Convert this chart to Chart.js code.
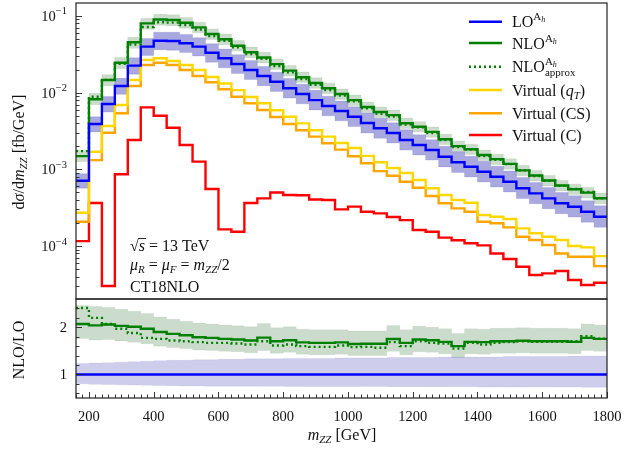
<!DOCTYPE html>
<html>
<head>
<meta charset="utf-8">
<title>ZZ invariant mass</title>
<script src="https://cdn.jsdelivr.net/npm/chart.js@4.4.1/dist/chart.umd.min.js"></script>
<style>
  html, body { margin: 0; padding: 0; background: #fff; }
  #wrap { position: relative; width: 641px; height: 451px; overflow: hidden; }
  #wrap canvas { position: absolute; left: 0; }
  #main { top: 0; }
  #ratio { top: 290px; }
</style>
</head>
<body>
<div id="wrap">
  <canvas id="main" width="641" height="300"></canvas>
  <canvas id="ratio" width="641" height="161"></canvas>
</div>
<script>
// ─── Data (bin lower edges in GeV, 40 GeV bins) ───────────────────────────────

const binLow = [160, 200, 240, 280, 320, 360, 400, 440, 480, 520, 560, 600, 640, 680,
    720, 760, 800, 840, 880, 920, 960, 1000, 1040, 1080, 1120, 1160, 1200, 1240, 1280,
    1320, 1360, 1400, 1440, 1480, 1520, 1560, 1600, 1640, 1680, 1720, 1760];
const binEnd = 1800;

// dσ/dm_ZZ [fb/GeV]
const lo = [7.11e-4, 3.90e-3, 7.11e-3, 1.22e-2, 2.25e-2, 3.98e-2, 4.76e-2, 4.72e-2, 4.41e-2,
    3.98e-2, 3.32e-2, 2.81e-2, 2.37e-2, 1.98e-2, 1.65e-2, 1.39e-2, 1.14e-2, 9.6e-3, 8.0e-3,
    6.7e-3, 5.77e-3, 4.86e-3, 4.02e-3, 3.43e-3, 2.98e-3, 2.41e-3, 2.08e-3, 1.79e-3, 1.46e-3,
    1.24e-3, 1.08e-3, 9.3e-4, 8.0e-4, 6.9e-4, 5.66e-4, 4.87e-4, 4.19e-4, 3.61e-4, 3.26e-4,
    2.80e-4, 2.41e-4];
const nlo = [1.49e-3, 8.2e-3, 1.46e-2, 2.46e-2, 4.54e-2, 8.0e-2, 9.0e-2, 8.87e-2, 8.18e-2,
    7.1e-2, 5.82e-2, 4.97e-2, 4.10e-2, 3.36e-2, 2.88e-2, 2.36e-2, 1.94e-2, 1.59e-2, 1.34e-2,
    1.14e-2, 9.6e-3, 8.0e-3, 6.5e-3, 5.6e-3, 5.1e-3, 4.0e-3, 3.6e-3, 3.08e-3, 2.47e-3,
    2.01e-3, 1.83e-3, 1.54e-3, 1.36e-3, 1.18e-3, 9.7e-4, 8.3e-4, 7.15e-4, 6.15e-4, 5.5e-4,
    4.97e-4, 4.2e-4];
const nloApprox = [1.73e-3, 8.85e-3, 1.47e-2, 2.38e-2, 4.25e-2, 7.2e-2, 8.3e-2, 8.2e-2, 7.62e-2,
    6.68e-2, 5.48e-2, 4.73e-2, 3.90e-2, 3.19e-2, 2.76e-2, 2.23e-2, 1.84e-2, 1.51e-2, 1.27e-2,
    1.08e-2, 9.2e-3, 7.7e-3, 6.25e-3, 5.3e-3, 4.9e-3, 3.83e-3, 3.53e-3, 2.98e-3, 2.42e-3,
    1.95e-3, 1.81e-3, 1.49e-3, 1.33e-3, 1.17e-3, 9.7e-4, 8.2e-4, 7.1e-4, 6.1e-4, 5.55e-4,
    5.07e-4, 4.2e-4];
const virtQT = [2.72e-4, 1.70e-3, 3.67e-3, 6.9e-3, 1.46e-2, 2.67e-2, 2.81e-2, 2.59e-2, 2.30e-2,
    1.98e-2, 1.60e-2, 1.32e-2, 1.08e-2, 8.8e-3, 7.27e-3, 5.89e-3, 4.86e-3, 3.98e-3, 3.23e-3,
    2.67e-3, 2.21e-3, 1.90e-3, 1.50e-3, 1.24e-3, 1.04e-3, 8.95e-4, 7.26e-4, 5.66e-4, 4.63e-4,
    3.98e-4, 3.67e-4, 2.54e-4, 2.41e-4, 2.25e-4, 1.70e-4, 1.47e-4, 1.32e-4, 1.20e-4, 1.0e-4,
    9.6e-5, 7.4e-5];
const virtCS = [2.07e-4, 1.32e-3, 3.0e-3, 5.38e-3, 1.22e-2, 2.30e-2, 2.46e-2, 2.30e-2, 1.98e-2,
    1.65e-2, 1.37e-2, 1.11e-2, 8.86e-3, 7.27e-3, 5.94e-3, 4.82e-3, 3.90e-3, 3.23e-3, 2.67e-3,
    2.19e-3, 1.81e-3, 1.48e-3, 1.20e-3, 9.5e-4, 8.26e-4, 6.9e-4, 5.77e-4, 4.49e-4, 3.61e-4,
    3.10e-4, 2.80e-4, 2.07e-4, 1.98e-4, 1.75e-4, 1.32e-4, 1.20e-4, 1.03e-4, 8.0e-5, 7.26e-5,
    7.26e-5, 5.48e-5];
const virtC = [1.16e-4, 3.64e-4, 3.01e-5, 8.65e-4, 2.41e-3, 6.44e-3, 5.01e-3, 3.49e-3, 2.08e-3,
    1.26e-3, 5.54e-4, 1.65e-4, 1.54e-4, 3.64e-4, 4.19e-4, 4.99e-4, 4.63e-4, 4.59e-4, 4.04e-4,
    3.98e-4, 3.01e-4, 3.27e-4, 2.80e-4, 2.67e-4, 2.39e-4, 2.18e-4, 1.62e-4, 1.54e-4, 1.29e-4,
    1.19e-4, 1.09e-4, 1.02e-4, 8.0e-5, 6.77e-5, 5.37e-5, 4.19e-5, 4.40e-5, 4.72e-5, 3.61e-5,
    3.10e-5, 3.32e-5];

// scale bands, as ratio to LO
const loBandLow = [0.80, 0.79, 0.785, 0.78, 0.775, 0.77, 0.765, 0.76, 0.755, 0.755, 0.75, 0.75,
    0.75, 0.75, 0.748, 0.748, 0.746, 0.746, 0.745, 0.745, 0.744, 0.744, 0.742, 0.742, 0.74,
    0.74, 0.74, 0.738, 0.738, 0.736, 0.736, 0.735, 0.735, 0.734, 0.734, 0.733, 0.733, 0.732,
    0.732, 0.73, 0.73];
const loBandHigh = [1.23, 1.24, 1.25, 1.26, 1.27, 1.28, 1.29, 1.30, 1.30, 1.31, 1.31, 1.32, 1.32,
    1.33, 1.33, 1.33, 1.34, 1.34, 1.34, 1.34, 1.35, 1.35, 1.35, 1.35, 1.36, 1.36, 1.36, 1.36,
    1.37, 1.37, 1.37, 1.37, 1.37, 1.38, 1.38, 1.38, 1.38, 1.38, 1.39, 1.39, 1.39];

// NLO/LO panel
const nloRatio = [2.07, 2.04, 2.06, 2.03, 2.01, 1.97, 1.90, 1.86, 1.83, 1.79, 1.775, 1.755, 1.74,
    1.72, 1.78, 1.705, 1.725, 1.68, 1.67, 1.67, 1.68, 1.645, 1.65, 1.65, 1.75, 1.67, 1.74,
    1.725, 1.69, 1.60, 1.69, 1.685, 1.705, 1.705, 1.715, 1.705, 1.705, 1.705, 1.69, 1.775, 1.755];
const approxRatio = [2.41, 2.20, 2.07, 1.97, 1.88, 1.775, 1.755, 1.72, 1.705, 1.685, 1.67, 1.67,
    1.655, 1.635, 1.705, 1.615, 1.635, 1.60, 1.585, 1.585, 1.615, 1.58, 1.585, 1.565, 1.685,
    1.60, 1.705, 1.67, 1.655, 1.55, 1.67, 1.635, 1.67, 1.685, 1.705, 1.69, 1.69, 1.69, 1.705,
    1.81, 1.76];
const nloBandHigh = [2.46, 2.44, 2.42, 2.38, 2.34, 2.29, 2.22, 2.17, 2.13, 2.09, 2.07, 2.05, 2.03,
    2.01, 2.08, 1.99, 2.01, 1.96, 1.95, 1.95, 1.95, 1.92, 1.92, 1.92, 2.04, 1.95, 2.02, 2.0,
    1.97, 1.87, 1.97, 1.96, 1.98, 1.98, 1.99, 1.98, 1.98, 1.98, 1.97, 2.07, 2.05];
const nloBandLow = [1.76, 1.73, 1.74, 1.71, 1.68, 1.65, 1.60, 1.57, 1.55, 1.52, 1.51, 1.49, 1.48,
    1.46, 1.51, 1.45, 1.47, 1.43, 1.42, 1.42, 1.43, 1.40, 1.40, 1.40, 1.49, 1.42, 1.48, 1.47,
    1.44, 1.36, 1.44, 1.43, 1.45, 1.45, 1.46, 1.45, 1.45, 1.45, 1.44, 1.51, 1.49];
const loRatioLevel = 1;

// axes
const xTicks = [200, 400, 600, 800, 1000, 1200, 1400, 1600, 1800];
const decades = [-4, -3, -2, -1];
const ratioTicks = [1, 2];

// ─── Style ────────────────────────────────────────────────────────────────────

const SERIF = '"Liberation Serif", "DejaVu Serif", serif';
const INK = '#111';
const colors = {
    lo: '#0000ff',
    nlo: '#008000',
    qt: '#ffd700',
    cs: '#ffa500',
    c: '#ff0000',
};

function font(size, italic) {
    return `${italic ? 'italic ' : ''}${size}px ${SERIF}`;
}

function seg(ctx, x1, y1, x2, y2) {
    ctx.beginPath();
    ctx.moveTo(x1, y1);
    ctx.lineTo(x2, y2);
    ctx.stroke();
}

// text made of runs with own size / italic / baseline shift
function drawRuns(ctx, x, y, runs, align) {
    let pen = 0, mark = 0;
    const placed = runs.map(r => {
        ctx.font = font(r.s, r.i);
        const w = ctx.measureText(r.t).width;
        const sx = r.stack ? mark : pen;
        if (r.mark) mark = sx;
        pen = Math.max(pen, sx + w);
        return { r, sx };
    });
    const off = align === 'center' ? -pen / 2 : align === 'right' ? -pen : 0;
    ctx.fillStyle = INK;
    ctx.textAlign = 'left';
    ctx.textBaseline = 'alphabetic';
    placed.forEach(({ r, sx }) => {
        ctx.font = font(r.s, r.i);
        ctx.fillText(r.t, x + off + sx, y + (r.dy || 0));
    });
    return pen;
}

// histogram points: one per bin edge, last value repeated at the upper edge
// (Chart.js 'before' keeps a point's value up to the next point)
function stairs(vals) {
    const pts = binLow.map((x, i) => ({ x, y: vals[i] }));
    pts.push({ x: binEnd, y: vals[vals.length - 1] });
    return pts;
}

function histLine(vals, color, extra) {
    return Object.assign({
        data: stairs(vals),
        borderColor: color,
        borderWidth: 2.4,
        stepped: 'before',
        pointRadius: 0,
        fill: false,
        order: 1,
    }, extra);
}

function band(high, low, fillColor, edgeColor) {
    return [
        { data: stairs(high), stepped: 'before', borderColor: edgeColor, borderWidth: 1,
          backgroundColor: fillColor, fill: '+1', pointRadius: 0, order: 10 },
        { data: stairs(low), stepped: 'before', borderColor: edgeColor, borderWidth: 1,
          fill: false, pointRadius: 0, order: 10 },
    ];
}

const common = {
    responsive: false,
    animation: false,
    events: [],
    plugins: { legend: { display: false }, tooltip: { enabled: false } },
};

// ─── Main panel decorations ───────────────────────────────────────────────────

const legendRows = [
    { y: 21.7, color: colors.lo, runs: [{ t: 'LO', s: 16 }, { t: 'A', s: 11, dy: -7 }, { t: 'h', s: 8, i: true, dy: -5 }] },
    { y: 43, color: colors.nlo, runs: [{ t: 'NLO', s: 16 }, { t: 'A', s: 11, dy: -7 }, { t: 'h', s: 8, i: true, dy: -5 }] },
    { y: 66.7, color: colors.nlo, dash: [2, 3], runs: [{ t: 'NLO', s: 16 }, { t: 'A', s: 11, dy: -7, mark: true },
        { t: 'h', s: 8, i: true, dy: -5 }, { t: 'approx', s: 11, dy: 4, stack: true }] },
    { y: 90, color: colors.qt, runs: [{ t: 'Virtual (', s: 16 }, { t: 'q', s: 16, i: true }, { t: 'T', s: 11, i: true, dy: 3 }, { t: ')', s: 16 }] },
    { y: 113.3, color: colors.cs, runs: [{ t: 'Virtual (CS)', s: 16 }] },
    { y: 135, color: colors.c, runs: [{ t: 'Virtual (C)', s: 16 }] },
];

const mainDecor = {
    id: 'mainDecor',
    afterDatasetsDraw(chart) {
        const { ctx, chartArea: a, scales: { y } } = chart;
        ctx.save();
        ctx.strokeStyle = '#222';
        ctx.lineWidth = 0.9;

        // log ticks, inside
        [-5].concat(decades).forEach(e => {
            for (let m = 1; m <= 9; m++) {
                const v = m * Math.pow(10, e);
                if (v < y.min || v > y.max) continue;
                const py = Math.round(y.getPixelForValue(v)) + 0.5;
                seg(ctx, a.left, py, a.left + (m === 1 ? 6 : 3.5), py);
            }
        });
        decades.forEach(e => {
            const py = y.getPixelForValue(Math.pow(10, e));
            drawRuns(ctx, 67, py + 5, [{ t: '10', s: 14.5 }, { t: '−' + (-e), s: 10.5, dy: -6.5 }], 'right');
        });

        ctx.lineWidth = 1.2;
        ctx.strokeRect(a.left, a.top, a.right - a.left, a.bottom - a.top);

        // y title
        ctx.save();
        ctx.translate(24, 152);
        ctx.rotate(-Math.PI / 2);
        drawRuns(ctx, 0, 0, [
            { t: 'd', s: 16 }, { t: 'σ', s: 16, i: true }, { t: '/d', s: 16 }, { t: 'm', s: 16, i: true },
            { t: 'ZZ', s: 11, i: true, dy: 3 }, { t: ' [fb/GeV]', s: 16 },
        ], 'center');
        ctx.restore();

        // run info
        const ax = 130;
        ctx.fillStyle = INK;
        ctx.font = font(16);
        const wr = ctx.measureText('√').width;
        ctx.fillText('√', ax, 251);
        ctx.font = font(16, true);
        const ws = ctx.measureText('s').width;
        ctx.fillText('s', ax + wr, 251);
        ctx.strokeStyle = INK;
        ctx.lineWidth = 0.9;
        seg(ctx, ax + wr - 0.5, 238.5, ax + wr + ws + 1, 238.5);
        drawRuns(ctx, ax + wr + ws, 251, [{ t: ' = 13 TeV', s: 16 }]);
        drawRuns(ctx, ax, 270, [
            { t: 'μ', s: 16, i: true }, { t: 'R', s: 11, i: true, dy: 3 }, { t: ' = ', s: 16 },
            { t: 'μ', s: 16, i: true }, { t: 'F', s: 11, i: true, dy: 3 }, { t: ' = ', s: 16 },
            { t: 'm', s: 16, i: true }, { t: 'ZZ', s: 11, i: true, dy: 3 }, { t: '/2', s: 16 },
        ]);
        drawRuns(ctx, ax, 292, [{ t: 'CT18NLO', s: 16 }]);

        // legend
        legendRows.forEach(row => {
            ctx.strokeStyle = row.color;
            ctx.lineWidth = 2.4;
            ctx.setLineDash(row.dash || []);
            seg(ctx, 469, row.y, 502, row.y);
            ctx.setLineDash([]);
            drawRuns(ctx, 512, row.y + 5.5, row.runs);
        });
        ctx.restore();
    },
};

// ─── Ratio panel decorations ──────────────────────────────────────────────────

const ratioDecor = {
    id: 'ratioDecor',
    afterDatasetsDraw(chart) {
        const { ctx, chartArea: a, scales: { x, y } } = chart;
        ctx.save();
        ctx.strokeStyle = '#222';
        ctx.lineWidth = 0.9;

        for (let v = 160; v <= 1800; v += 20) {
            const px = Math.round(x.getPixelForValue(v)) + 0.5;
            seg(ctx, px, a.bottom, px, a.bottom - (v % 200 === 0 ? 6 : 3.5));
        }
        for (let k = 3; k <= 12; k++) {
            const py = Math.round(y.getPixelForValue(k / 5)) + 0.5;
            seg(ctx, a.left, py, a.left + (k % 5 === 0 ? 6 : 3.5), py);
        }
        xTicks.forEach(v => {
            drawRuns(ctx, x.getPixelForValue(v), 131, [{ t: String(v), s: 14.5 }], 'center');
        });
        ratioTicks.forEach(v => {
            drawRuns(ctx, 67, y.getPixelForValue(v) + 5, [{ t: String(v), s: 14.5 }], 'right');
        });

        ctx.lineWidth = 1.2;
        ctx.strokeRect(a.left, a.top, a.right - a.left, a.bottom - a.top);

        drawRuns(ctx, 342, 150, [
            { t: 'm', s: 16, i: true }, { t: 'ZZ', s: 11, i: true, dy: 3 }, { t: ' [GeV]', s: 16 },
        ], 'center');

        ctx.save();
        ctx.translate(24, 60);
        ctx.rotate(-Math.PI / 2);
        drawRuns(ctx, 0, 0, [{ t: 'NLO/LO', s: 16 }], 'center');
        ctx.restore();
        ctx.restore();
    },
};

// ─── Charts ───────────────────────────────────────────────────────────────────

new Chart(document.getElementById('main'), {
    type: 'line',
    data: {
        datasets: [
            histLine(lo, colors.lo, { order: 1 }),
            histLine(nlo, colors.nlo, { order: 2 }),
            histLine(nloApprox, colors.nlo, { order: 3, borderDash: [2, 3] }),
            histLine(virtQT, colors.qt, { order: 4 }),
            histLine(virtCS, colors.cs, { order: 5 }),
            histLine(virtC, colors.c, { order: 6 }),
            ...band(lo.map((v, i) => v * loBandHigh[i]), lo.map((v, i) => v * loBandLow[i]),
                'rgba(30,30,170,0.38)', 'rgba(30,30,170,0.12)'),
            ...band(nlo.map((v, i) => v * nloBandHigh[i] / nloRatio[i]),
                nlo.map((v, i) => v * nloBandLow[i] / nloRatio[i]),
                'rgba(0,80,0,0.2)', 'rgba(0,80,0,0.08)'),
        ],
    },
    options: {
        ...common,
        layout: { padding: { left: 76, right: 34, top: 3, bottom: 1 } },
        scales: {
            x: { type: 'linear', min: 160, max: 1800, display: false },
            y: { type: 'logarithmic', min: 2.04e-5, max: 0.1477, display: false },
        },
    },
    plugins: [mainDecor],
});

new Chart(document.getElementById('ratio'), {
    type: 'line',
    data: {
        datasets: [
            {
                data: [{ x: 160, y: loRatioLevel }, { x: binEnd, y: loRatioLevel }],
                borderColor: colors.lo, borderWidth: 2.4, pointRadius: 0, fill: false, order: 1,
            },
            histLine(nloRatio, colors.nlo, { order: 2 }),
            histLine(approxRatio, colors.nlo, { order: 3, borderDash: [2, 3] }),
            ...band(loBandHigh, loBandLow, 'rgba(30,30,170,0.22)', 'rgba(30,30,170,0.06)'),
            ...band(nloBandHigh, nloBandLow, 'rgba(0,80,0,0.2)', 'rgba(0,80,0,0.06)'),
        ],
    },
    options: {
        ...common,
        layout: { padding: { left: 76, right: 34, top: 9, bottom: 53 } },
        scales: {
            x: { type: 'linear', min: 160, max: 1800, display: false },
            y: { type: 'linear', min: 0.5, max: 2.6, display: false },
        },
    },
    plugins: [ratioDecor],
});
</script>
</body>
</html>
